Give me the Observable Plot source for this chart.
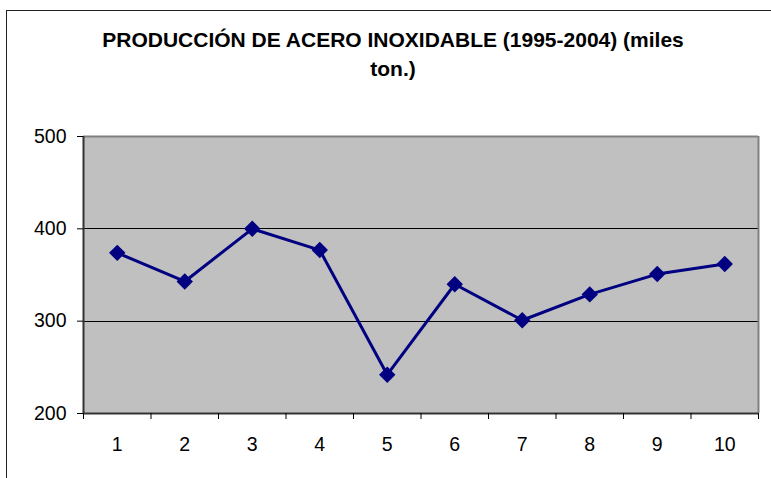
<!DOCTYPE html>
<html><head><meta charset="utf-8">
<script src="https://cdn.jsdelivr.net/npm/d3@7"></script>
<script src="https://cdn.jsdelivr.net/npm/@observablehq/plot@0.6"></script>
<style>
body{margin:0;overflow:hidden;background:#fff;}
#wrap{position:relative;width:771px;height:478px;overflow:hidden;}
#border{position:absolute;left:6px;top:10px;width:800px;height:520px;border:1.5px solid #222;}
#chart{position:absolute;left:0;top:0;}
</style></head><body>
<div id="wrap"><div id="border"></div><div id="chart"></div></div>
<script>
const years = [1, 2, 3, 4, 5, 6, 7, 8, 9, 10];
const production = [374, 343, 400, 377, 242, 340, 301, 329, 351, 362];
const yTicks = [200, 300, 400, 500];
const gridValues = [300, 400];
const titleLines = ["PRODUCCIÓN DE ACERO INOXIDABLE (1995-2004) (miles", "ton.)"];

const data = years.map((d, i) => ({year: d, value: production[i]}));
const bandEdges = d3.range(0, years.length + 1).map(i => i + 0.5);

const chart = Plot.plot({
  width: 771,
  height: 478,
  marginLeft: 83,
  marginRight: 13,
  marginTop: 136,
  marginBottom: 65,
  style: {fontFamily: "Arial, 'Liberation Sans', sans-serif", fontSize: "19.5px", color: "#000", background: "transparent"},
  x: {domain: [0.5, 10.5], label: null},
  y: {domain: [200, 500], label: null},
  marks: [
    Plot.frame({fill: "#c0c0c0"}),
    Plot.ruleY(gridValues, {stroke: "#000", strokeWidth: 1, shapeRendering: "crispEdges"}),
    Plot.ruleY([500], {stroke: "#808080", strokeWidth: 2}),
    Plot.ruleX([10.5], {stroke: "#808080", strokeWidth: 2}),
    Plot.ruleX([0.5], {stroke: "#333", strokeWidth: 2}),
    Plot.ruleY([200], {stroke: "#333", strokeWidth: 2}),
    Plot.axisY({ticks: yTicks, tickSize: 6, tickPadding: 11, tickFormat: d => String(d), stroke: "#000", label: null}),
    Plot.axisX({ticks: bandEdges, tickSize: 6, tickFormat: () => "", stroke: "#000", label: null}),
    Plot.axisX({ticks: years, tickSize: 0, tickPadding: 24, tickFormat: d => String(d), label: null}),
    Plot.line(data, {x: "year", y: "value", stroke: "#000080", strokeWidth: 3}),
    Plot.dot(data, {x: "year", y: "value", symbol: "diamond2", r: 7.4, fill: "#000080", stroke: "none"}),
    Plot.text([titleLines[0]], {frameAnchor: "top", dx: -28, dy: -96, text: d => d, fontSize: 21, fontWeight: "bold", lineAnchor: "middle", fill: "#000"}),
    Plot.text([titleLines[1]], {frameAnchor: "top", dx: -28, dy: -67, text: d => d, fontSize: 21, fontWeight: "bold", lineAnchor: "middle", fill: "#000"})
  ]
});
document.getElementById("chart").appendChild(chart);
</script>
</body></html>
